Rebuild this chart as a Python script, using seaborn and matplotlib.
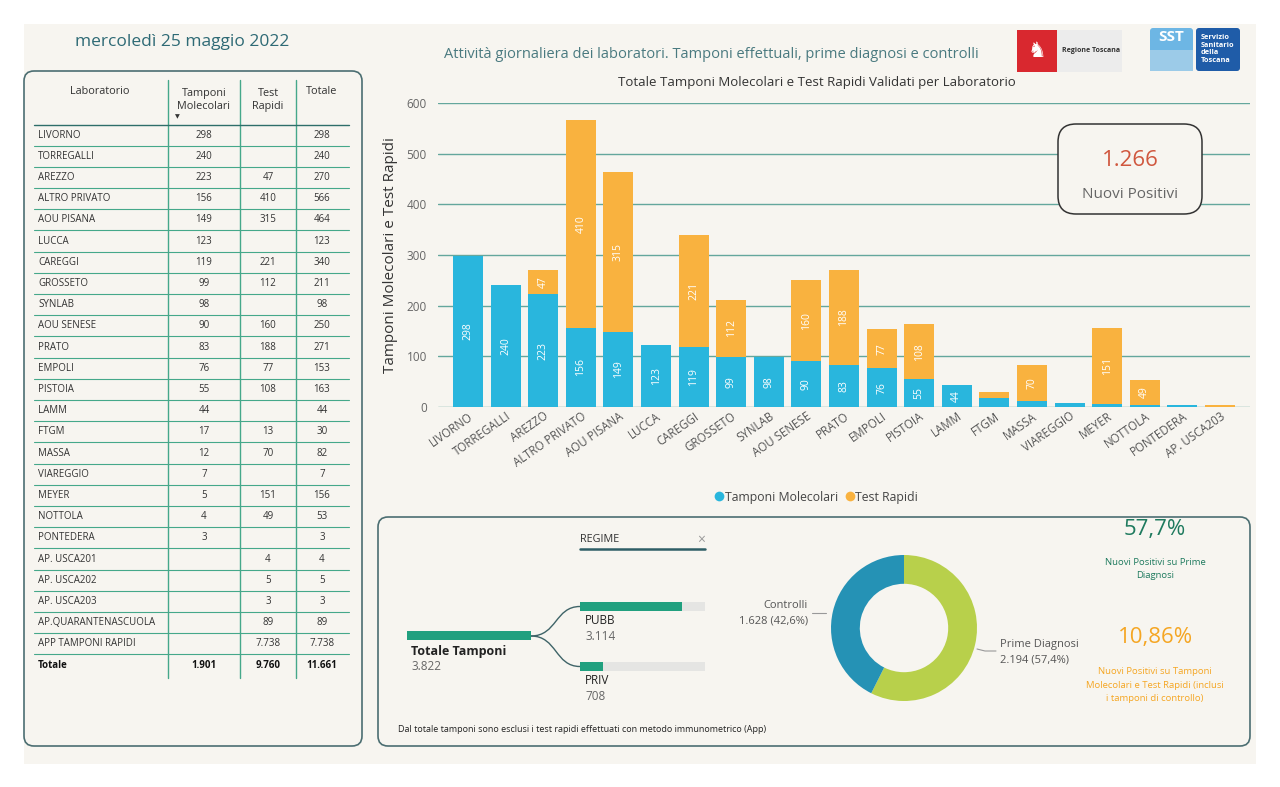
import matplotlib
matplotlib.use("Agg")
import matplotlib.pyplot as plt
import seaborn as sns
import pandas as pd
import numpy as np
from matplotlib.patches import FancyBboxPatch, Rectangle, PathPatch
from matplotlib.path import Path
from matplotlib.lines import Line2D

# ---------------- data ----------------
chart_labs = ["LIVORNO", "TORREGALLI", "AREZZO", "ALTRO PRIVATO", "AOU PISANA", "LUCCA",
              "CAREGGI", "GROSSETO", "SYNLAB", "AOU SENESE", "PRATO", "EMPOLI", "PISTOIA",
              "LAMM", "FTGM", "MASSA", "VIAREGGIO", "MEYER", "NOTTOLA", "PONTEDERA", "AP. USCA203"]
chart_mol = [298, 240, 223, 156, 149, 123, 119, 99, 98, 90, 83, 76, 55, 44, 17, 12, 7, 5, 4, 3, 0]
chart_rap = [0, 0, 47, 410, 315, 0, 221, 112, 0, 160, 188, 77, 108, 0, 13, 70, 0, 151, 49, 0, 3]
yticks = [0, 100, 200, 300, 400, 500, 600]

tab_labs = ["LIVORNO", "TORREGALLI", "AREZZO", "ALTRO PRIVATO", "AOU PISANA", "LUCCA", "CAREGGI",
            "GROSSETO", "SYNLAB", "AOU SENESE", "PRATO", "EMPOLI", "PISTOIA", "LAMM", "FTGM",
            "MASSA", "VIAREGGIO", "MEYER", "NOTTOLA", "PONTEDERA", "AP. USCA201", "AP. USCA202",
            "AP. USCA203", "AP.QUARANTENASCUOLA", "APP TAMPONI RAPIDI"]
tab_mol = ["298", "240", "223", "156", "149", "123", "119", "99", "98", "90", "83", "76", "55",
           "44", "17", "12", "7", "5", "4", "3", "", "", "", "", ""]
tab_rap = ["", "", "47", "410", "315", "", "221", "112", "", "160", "188", "77", "108", "",
           "13", "70", "", "151", "49", "", "4", "5", "3", "89", "7.738"]
tab_tot = ["298", "240", "270", "566", "464", "123", "340", "211", "98", "250", "271", "153",
           "163", "44", "30", "82", "7", "156", "53", "3", "4", "5", "3", "89", "7.738"]
tab_total_row = ["Totale", "1.901", "9.760", "11.661"]
tab_header = ["Laboratorio", "Tamponi\nMolecolari", "Test\nRapidi", "Totale"]

nuovi_positivi = "1.266"
tree_total = 3822
tree_labels = ["PUBB", "PRIV"]
tree_values = [3114, 708]
donut_labels = ["Prime Diagnosi", "Controlli"]
donut_values = [2194, 1628]
donut_pct = ["57,4%", "42,6%"]
kpi1 = "57,7%"
kpi2 = "10,86%"

# ---------------- style ----------------
sns.set_theme(style="white")
plt.rcParams['font.family'] = ['Open Sans', 'DejaVu Sans']

BG = "#F7F5F0"
BLUE = "#29B6DD"
ORANGE = "#F9B23F"
GRID = "#64A79D"
TLINE = "#45A88A"
GREEN = "#21A07F"
DARK = "#333333"

W, H = 1280, 787
fig = plt.figure(figsize=(12.8, 7.87), dpi=100, facecolor="white")

bg = fig.add_axes([0, 0, 1, 1], zorder=0)
bg.set_xlim(0, W)
bg.set_ylim(H, 0)
bg.axis("off")

bg.add_patch(Rectangle((24, 24), 1232, 740, facecolor=BG, edgecolor="none"))

# header
bg.text(75, 42, "mercoledì 25 maggio 2022", fontsize=12.5, color="#2E6A75", va="center", ha="left")
bg.text(711, 55, "Attività giornaliera dei laboratori. Tamponi effettuali, prime diagnosi e controlli",
        fontsize=10.5, color="#4A7A80", va="center", ha="center")

# logos
bg.add_patch(Rectangle((1017, 30), 40, 42, facecolor="#D9282F", edgecolor="none"))
bg.add_patch(Rectangle((1057, 30), 65, 42, facecolor="#ECECEC", edgecolor="none"))
bg.text(1037, 51, "♞", fontsize=15, color="white", ha="center", va="center", family=['DejaVu Sans'])
bg.text(1062, 51, "Regione Toscana", fontsize=5, fontweight="bold", color="#333", ha="left", va="center")
bg.add_patch(FancyBboxPatch((1150, 28), 43, 43, boxstyle="round,pad=0,rounding_size=3",
                            facecolor="#6DB6E4", edgecolor="none"))
bg.add_patch(Rectangle((1150, 50), 43, 21, facecolor="#9CCBE8", edgecolor="none"))
bg.text(1171, 37, "SST", fontsize=11, fontweight="bold", color="white", ha="center", va="center")
bg.add_patch(FancyBboxPatch((1196, 28), 44, 43, boxstyle="round,pad=0,rounding_size=3",
                            facecolor="#1F5CA8", edgecolor="none"))
bg.text(1201, 49, "Servizio\nSanitario\ndella\nToscana", fontsize=5.3, fontweight="bold",
        color="white", ha="left", va="center", linespacing=1.1)

# ---------------- table panel ----------------
bg.add_patch(FancyBboxPatch((24, 71), 338, 675, boxstyle="round,pad=0,rounding_size=10",
                            facecolor="none", edgecolor="#4C6E72", linewidth=1.2))
col_x = [38, 204, 268, 322]
vlines = [168, 240, 296]
for vx in vlines:
    bg.plot([vx, vx], [80, 678], color=TLINE, lw=1.0)
bg.text(100, 92, tab_header[0], fontsize=7.8, color=DARK, ha="center", va="center")
bg.text(col_x[1], 100, tab_header[1], fontsize=7.8, color=DARK, ha="center", va="center", linespacing=1.3)
bg.text(col_x[2], 100, tab_header[2], fontsize=7.8, color=DARK, ha="center", va="center", linespacing=1.3)
bg.text(col_x[3], 92, tab_header[3], fontsize=7.8, color=DARK, ha="center", va="center")
bg.text(177, 117, "▼", fontsize=4.5, color=DARK, ha="center", va="center", family=['DejaVu Sans'])
bg.plot([34, 349], [124.5, 124.5], color="#2E6E6A", lw=1.0)

row_h = 21.2
y0 = 135
for i, lab in enumerate(tab_labs):
    yc = y0 + i * row_h
    bg.text(col_x[0], yc, lab, fontsize=7, color=DARK, ha="left", va="center")
    bg.text(col_x[1], yc, tab_mol[i], fontsize=7, color=DARK, ha="center", va="center")
    bg.text(col_x[2], yc, tab_rap[i], fontsize=7, color=DARK, ha="center", va="center")
    bg.text(col_x[3], yc, tab_tot[i], fontsize=7, color=DARK, ha="center", va="center")
    bg.plot([34, 349], [yc + row_h / 2, yc + row_h / 2], color=TLINE, lw=0.8)
yc = y0 + len(tab_labs) * row_h
bg.text(col_x[0], yc, tab_total_row[0], fontsize=7, fontweight="bold", color="#111", ha="left", va="center")
for k in range(1, 4):
    bg.text(col_x[k], yc, tab_total_row[k], fontsize=7, fontweight="bold", color="#111", ha="center", va="center")

# ---------------- bar chart ----------------
ax = fig.add_axes([438 / W, (H - 407) / H, (1250 - 438) / W, (407 - 103) / H], zorder=2)
ax.set_facecolor("none")
df = pd.DataFrame({"lab": chart_labs, "mol": chart_mol, "rap": chart_rap})
df["tot"] = df["mol"] + df["rap"]
sns.barplot(data=df, x="lab", y="tot", color=ORANGE, saturation=1, width=0.8, ax=ax, zorder=3,
            edgecolor="none", linewidth=0)
sns.barplot(data=df, x="lab", y="mol", color=BLUE, saturation=1, width=0.8, ax=ax, zorder=3,
            edgecolor="none", linewidth=0)
ax.set_xlim(-0.8, 20.8)
ax.set_ylim(0, 600)
ax.set_yticks(yticks)
ax.grid(axis="y", color=GRID, lw=1.0, zorder=0)
ax.set_axisbelow(True)
for s in ax.spines.values():
    s.set_visible(False)
ax.tick_params(axis="y", length=0, labelsize=8.5, labelcolor="#666666", pad=8)
ax.tick_params(axis="x", length=0, labelsize=8.3, labelcolor="#555555", pad=2)
plt.setp(ax.get_xticklabels(), rotation=35, ha="right", rotation_mode="anchor")
ax.set_xlabel("")
ax.set_ylabel("Tamponi Molecolari e Test Rapidi", fontsize=11, color=DARK, labelpad=6)
ax.set_title("Totale Tamponi Molecolari e Test Rapidi Validati per Laboratorio",
             fontsize=9.5, color=DARK, pad=12, x=(817 - 438) / (1250 - 438))
for i in range(len(chart_labs)):
    m, r = chart_mol[i], chart_rap[i]
    if m >= 25:
        ax.text(i, m / 2, str(m), rotation=90, color="white", fontsize=7.5, ha="center", va="center", zorder=4)
    if r >= 25:
        ax.text(i, m + r / 2, str(r), rotation=90, color="white", fontsize=7.5, ha="center", va="center", zorder=4)

# legend
handles = [Line2D([0], [0], marker="o", color="none", markerfacecolor=BLUE, markeredgecolor="none", markersize=7),
           Line2D([0], [0], marker="o", color="none", markerfacecolor=ORANGE, markeredgecolor="none", markersize=7)]
fig.legend(handles, ["Tamponi Molecolari", "Test Rapidi"], loc="center", bbox_to_anchor=(814 / W, 1 - 497 / H),
           ncol=2, frameon=False, fontsize=8.8, handletextpad=-0.3, columnspacing=0.2, labelcolor="#444444",
           handlelength=1.5)

# nuovi positivi card (top overlay, above the grid lines)
top = fig.add_axes([0, 0, 1, 1], zorder=5)
top.set_xlim(0, W)
top.set_ylim(H, 0)
top.axis("off")
top.add_patch(FancyBboxPatch((1058, 124), 144, 90, boxstyle="round,pad=0,rounding_size=18",
                             facecolor=BG, edgecolor="#333333", linewidth=1.1))
top.text(1130, 160, nuovi_positivi, fontsize=16, color="#D0573E", ha="center", va="center")
top.text(1130, 194, "Nuovi Positivi", fontsize=11, color="#666666", ha="center", va="center")

# ---------------- bottom panel ----------------
bg.add_patch(FancyBboxPatch((378, 517), 872, 229, boxstyle="round,pad=0,rounding_size=10",
                            facecolor="none", edgecolor="#4C6E72", linewidth=1.2))
# decomposition tree
bg.text(580, 540, "REGIME", fontsize=7.8, color=DARK, ha="left", va="center")
bg.text(701, 540, "×", fontsize=10, color="#999999", ha="center", va="center")
bg.plot([580, 705], [549, 549], color="#2E5E66", lw=1.8)

bg.add_patch(Rectangle((407, 631), 124, 9, facecolor=GREEN, edgecolor="none"))
bg.text(411, 651, "Totale Tamponi", fontsize=9, fontweight="bold", color="#222", ha="left", va="center")
bg.text(411, 667, f"{tree_total:,}".replace(",", "."), fontsize=8.5, color="#666", ha="left", va="center")
bar_len = 125
for j, (lab, v) in enumerate(zip(tree_labels, tree_values)):
    yb = 602 + j * 60
    bg.add_patch(Rectangle((580, yb), bar_len, 9, facecolor="#E5E5E3", edgecolor="none"))
    bg.add_patch(Rectangle((580, yb), bar_len * v / tree_total, 9, facecolor=GREEN, edgecolor="none"))
    bg.text(585, yb + 19, lab, fontsize=8.5, color="#222", ha="left", va="center")
    bg.text(585, yb + 34, f"{v:,}".replace(",", "."), fontsize=8.5, color="#666", ha="left", va="center")
    path = Path([(531, 636), (557, 636), (555, yb + 4.5), (580, yb + 4.5)],
                [Path.MOVETO, Path.CURVE4, Path.CURVE4, Path.CURVE4])
    bg.add_patch(PathPatch(path, facecolor="none", edgecolor="#3F6468", lw=1.0))
bg.text(398, 730, "Dal totale tamponi sono esclusi i test rapidi effettuati con metodo immunometrico (App)",
        fontsize=6.5, color="#222", ha="left", va="center")

# donut
cx, cy = 904, 628
dax = fig.add_axes([(cx - 80) / W, (H - cy - 80) / H, 160 / W, 160 / H], zorder=2)
dax.pie(donut_values, colors=["#B8D04B", "#2592B5"], startangle=90, counterclock=False,
        radius=0.9125, wedgeprops=dict(width=0.36, edgecolor="none"))
dax.set_xlim(-1, 1)
dax.set_ylim(-1, 1)
dax.set_aspect("equal")
dax.axis("off")
bg.plot([812, 826], [613, 613], color="#999999", lw=0.8)
bg.text(808, 606, donut_labels[1], fontsize=8, color="#555", ha="right", va="center")
bg.text(808, 621, f"{donut_values[1]:,}".replace(",", ".") + f" ({donut_pct[1]})", fontsize=8, color="#555",
        ha="right", va="center")
bg.plot([977, 985, 996], [649, 651, 651], color="#999999", lw=0.8)
bg.text(1000, 645, donut_labels[0], fontsize=8, color="#555", ha="left", va="center")
bg.text(1000, 660, f"{donut_values[0]:,}".replace(",", ".") + f" ({donut_pct[0]})", fontsize=8, color="#555",
        ha="left", va="center")

# KPIs
bg.text(1155, 530, kpi1, fontsize=16, color="#1E7A5E", ha="center", va="center")
bg.text(1155, 569, "Nuovi Positivi su Prime\nDiagnosi", fontsize=6.8, color="#1E7A5E", ha="center",
        va="center", linespacing=1.6)
bg.text(1155, 638, kpi2, fontsize=16, color="#F5A623", ha="center", va="center")
bg.text(1155, 685, "Nuovi Positivi su Tamponi\nMolecolari e Test Rapidi (inclusi\ni tamponi di controllo)",
        fontsize=6.8, color="#F5A623", ha="center", va="center", linespacing=1.6)

fig.savefig("out.png", dpi=100, facecolor="white")
